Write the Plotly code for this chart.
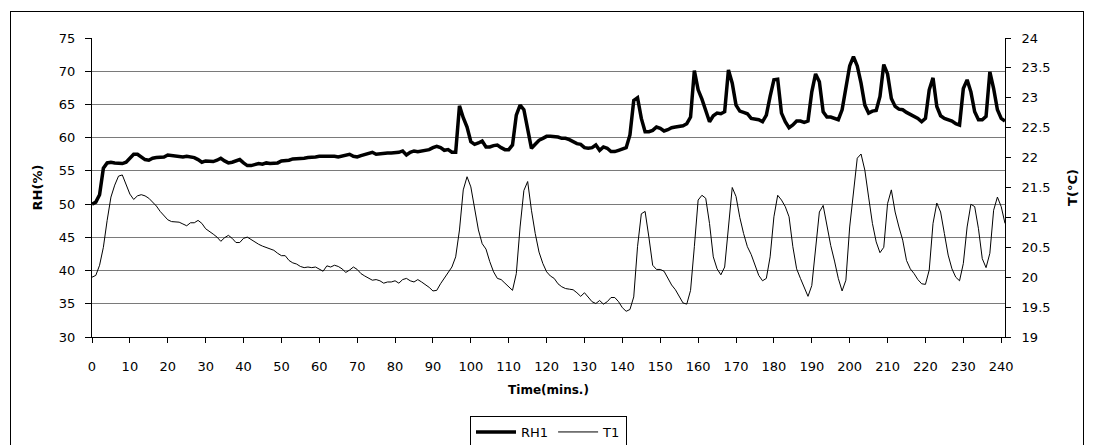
import plotly.graph_objects as go

# ---------------- data ----------------
minutes = list(range(0, 242))

rh1 = [
    50.0, 50.3, 51.4, 55.4, 56.2, 56.3, 56.2, 56.2, 56.1, 56.3,
    57.0, 57.5, 57.5, 57.1, 56.7, 56.6, 56.9, 57.0, 57.0, 57.1,
    57.4, 57.3, 57.3, 57.1, 57.1, 57.2, 57.1, 57.0, 56.7, 56.3,
    56.5, 56.5, 56.4, 56.6, 56.9, 56.5, 56.2, 56.3, 56.5, 56.7,
    56.2, 55.8, 55.8, 55.9, 56.1, 56.0, 56.2, 56.1, 56.2, 56.2,
    56.5, 56.5, 56.6, 56.8, 56.8, 56.9, 56.9, 57.0, 57.0, 57.1,
    57.2, 57.2, 57.3, 57.3, 57.2, 57.1, 57.2, 57.4, 57.5, 57.2,
    57.1, 57.3, 57.5, 57.6, 57.8, 57.5, 57.6, 57.6, 57.7, 57.7,
    57.7, 57.8, 58.0, 57.4, 57.8, 58.0, 57.9, 58.0, 58.0, 58.2,
    58.5, 58.7, 58.5, 58.1, 58.2, 57.8, 57.8, 64.8, 63.0, 61.6,
    59.4, 59.0, 59.2, 59.5, 58.6, 58.6, 58.8, 58.9, 58.5, 58.2,
    58.2, 58.9, 63.4, 64.9, 64.2, 61.1, 58.4, 59.0, 59.6, 59.9,
    60.2, 60.2, 60.2, 60.1, 59.9, 59.9, 59.7, 59.4, 59.1, 59.0,
    58.5, 58.4, 58.5, 58.9, 58.1, 58.6, 58.4, 57.9, 57.9, 58.1,
    58.3, 58.5, 60.4, 65.6, 66.0, 62.9, 60.9, 60.9, 61.1, 61.6,
    61.4, 61.0, 61.2, 61.5, 61.6, 61.7, 61.8, 62.1, 63.1, 70.1,
    67.2, 65.8, 64.2, 62.4, 63.3, 63.7, 63.6, 63.9, 70.2, 68.2,
    64.9, 64.0, 63.8, 63.6, 62.9, 62.8, 62.7, 62.4, 63.4, 66.2,
    68.7, 68.8, 63.7, 62.4, 61.5, 61.9, 62.5, 62.5, 62.3, 62.5,
    66.9, 69.6, 68.4, 63.9, 63.1, 63.1, 62.9, 62.7, 64.2, 67.7,
    70.8, 72.2, 70.8, 68.2, 64.9, 63.7, 64.0, 64.1, 66.2, 71.0,
    69.6, 65.9, 64.7, 64.3, 64.2, 63.8, 63.5, 63.3, 62.9, 62.4,
    62.9, 67.2, 69.0, 64.7, 63.3, 62.9, 62.7, 62.5, 62.1, 61.9,
    67.4, 68.7, 66.9, 63.9, 62.7, 62.7, 63.2, 69.9, 67.4, 64.2,
    62.9, 62.5,
]

t1 = [
    20.00, 20.03, 20.20, 20.50, 20.95, 21.34, 21.54, 21.69, 21.71, 21.54,
    21.39, 21.30, 21.36, 21.38, 21.36, 21.32, 21.26, 21.19, 21.10, 21.03,
    20.96, 20.93, 20.92, 20.92, 20.89, 20.86, 20.91, 20.91, 20.95, 20.90,
    20.81, 20.77, 20.72, 20.67, 20.60, 20.66, 20.70, 20.65, 20.58, 20.58,
    20.65, 20.67, 20.63, 20.58, 20.55, 20.52, 20.50, 20.47, 20.45, 20.40,
    20.36, 20.36, 20.28, 20.24, 20.22, 20.18, 20.16, 20.17, 20.16, 20.17,
    20.13, 20.10, 20.19, 20.17, 20.20, 20.18, 20.14, 20.08, 20.12, 20.17,
    20.13, 20.06, 20.02, 19.98, 19.95, 19.96, 19.94, 19.90, 19.92, 19.92,
    19.94, 19.90, 19.96, 19.98, 19.94, 19.92, 19.96, 19.92, 19.88, 19.83,
    19.77, 19.78, 19.89, 19.99, 20.07, 20.17, 20.34, 20.79, 21.46, 21.68,
    21.51, 21.12, 20.79, 20.56, 20.47, 20.26, 20.09, 19.98, 19.96, 19.90,
    19.84, 19.78, 20.06, 20.84, 21.45, 21.60, 21.12, 20.73, 20.42, 20.23,
    20.09, 20.02, 19.98, 19.89, 19.84, 19.81, 19.80, 19.79, 19.74, 19.68,
    19.74, 19.67, 19.59, 19.56, 19.61, 19.55, 19.59, 19.66, 19.66, 19.59,
    19.49, 19.43, 19.46, 19.67, 20.51, 21.06, 21.10, 20.67, 20.20, 20.13,
    20.13, 20.10, 19.98, 19.87, 19.79, 19.69, 19.57, 19.55, 19.78, 20.51,
    21.29, 21.37, 21.32, 20.90, 20.34, 20.14, 20.04, 20.17, 20.84, 21.50,
    21.35, 21.00, 20.73, 20.51, 20.38, 20.20, 20.03, 19.94, 19.98, 20.34,
    21.01, 21.37, 21.29, 21.18, 21.01, 20.51, 20.14, 19.98, 19.84, 19.68,
    19.86, 20.51, 21.09, 21.20, 20.84, 20.53, 20.27, 19.98, 19.77, 19.95,
    20.84, 21.46, 21.99, 22.06, 21.79, 21.34, 20.90, 20.59, 20.41, 20.50,
    21.23, 21.46, 21.09, 20.84, 20.62, 20.28, 20.14, 20.06, 19.96, 19.89,
    19.88, 20.12, 20.90, 21.24, 21.09, 20.73, 20.37, 20.14, 20.00, 19.94,
    20.23, 20.84, 21.22, 21.18, 20.81, 20.31, 20.16, 20.40, 21.12, 21.34,
    21.18, 20.90,
]

x_ticks = list(range(0, 241, 10))
rh_ticks = list(range(30, 76, 5))
t_ticks = [19 + 0.5 * i for i in range(11)]
t_labels = [("%g" % v) for v in t_ticks]

# ---------------- layout geometry ----------------
# The page body adds an 8 px offset, so the figure is sized to fit the window.
OFF = 8
W, H = 1099 - OFF, 445 - OFF
ML, MR, MT, MB = 84, 94, 30, 108
PW, PH = W - ML - MR, H - MT - MB


def px_x(p):  # window pixel -> paper x
    return (p - OFF - ML) / PW


def px_y(p):  # window pixel -> paper y
    return (H - MB - (p - OFF)) / PH


FONT = "DejaVu Sans"

fig = go.Figure()
fig.add_trace(go.Scatter(
    x=minutes, y=rh1, name="RH1", mode="lines",
    line=dict(color="black", width=3.5), yaxis="y", xaxis="x",
))
fig.add_trace(go.Scatter(
    x=minutes, y=t1, name="T1", mode="lines",
    line=dict(color="black", width=1), yaxis="y2", xaxis="x",
))

# outer chart-area frame, built from thin filled annotation boxes
FL, FR, FT, FB = 10, 1083, 11, 445


def bar(cx, cy, w, h):
    return dict(
        xref="paper", yref="paper", x=px_x(cx), y=px_y(cy),
        xanchor="center", yanchor="middle", showarrow=False,
        text=" ", font=dict(size=1), width=w, height=h,
        borderpad=0, borderwidth=0, bgcolor="black",
    )


frame = [
    bar((FL + FR) / 2, FT, FR - FL + 1, 1),      # top edge
    bar(FL, (FT + FB) / 2, 1, FB - FT),          # left edge
    bar(FR, (FT + FB) / 2, 1, FB - FT),          # right edge
]

fig.update_layout(
    width=W, height=H,
    margin=dict(l=ML, r=MR, t=MT, b=MB, autoexpand=False),
    paper_bgcolor="white", plot_bgcolor="white",
    font=dict(family=FONT, size=13, color="black"),
    xaxis=dict(
        range=[0, 241], tickmode="array", tickvals=x_ticks,
        ticks="outside", ticklen=5, tickcolor="black", tickwidth=1,
        showline=True, linecolor="black", linewidth=1,
        showgrid=False, zeroline=False, ticklabelstandoff=12,
        title=dict(text="<b>Time(mins.)</b>", font=dict(size=12, family=FONT), standoff=13),
        automargin=False,
    ),
    xaxis2=dict(
        range=[0, 241], overlaying="x", anchor="y", side="bottom",
        tickmode="array", tickvals=x_ticks, ticks="inside", ticklen=5,
        tickcolor="black", showticklabels=False, showline=False,
        showgrid=False, zeroline=False,
    ),
    yaxis=dict(
        range=[30, 75], tickmode="array", tickvals=rh_ticks,
        ticks="outside", ticklen=6, tickcolor="black",
        showline=True, linecolor="black", linewidth=1,
        showgrid=True, gridcolor="#7a7a7a", gridwidth=1, zeroline=False,
        ticklabelstandoff=7,
        title=dict(text="<b>RH(%)</b>", font=dict(size=13, family=FONT), standoff=13),
        automargin=False,
    ),
    yaxis2=dict(
        range=[19, 24], overlaying="y", side="right", anchor="x",
        tickmode="array", tickvals=t_ticks, ticktext=t_labels,
        ticks="outside", ticklen=5, tickcolor="black",
        showline=True, linecolor="black", linewidth=1,
        showgrid=False, zeroline=False, ticklabelstandoff=8,
        title=dict(text="<b>T(°C)</b>", font=dict(size=13, family=FONT), standoff=18),
        automargin=False,
    ),
    yaxis3=dict(
        range=[19, 24], overlaying="y", side="right", anchor="x",
        tickmode="array", tickvals=t_ticks, ticks="inside", ticklen=5,
        tickcolor="black", showticklabels=False, showline=False,
        showgrid=False, zeroline=False,
    ),
    showlegend=True,
    legend=dict(
        orientation="h", x=0.5, xanchor="center",
        y=px_y(416), yanchor="top",
        bordercolor="black", borderwidth=1, bgcolor="white",
        font=dict(family=FONT, size=13, color="black"),
        itemwidth=40, tracegroupgap=0,
    ),
    annotations=frame,
)

fig.write_html("out.html")
